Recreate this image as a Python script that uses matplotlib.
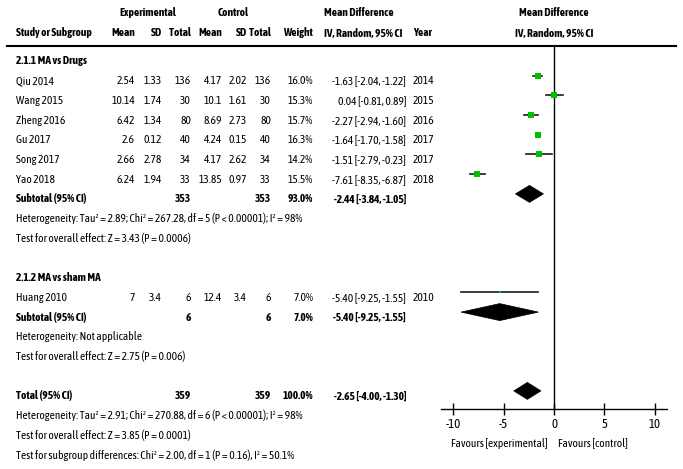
import matplotlib
matplotlib.use('Agg')
import matplotlib.pyplot as plt
from matplotlib import font_manager as fm
from matplotlib.font_manager import FontProperties
from matplotlib.textpath import TextPath
from matplotlib.patches import Polygon

### DATA
# subgroup 2.1.1 MA vs Drugs
g1_names    = ['Qiu 2014', 'Wang 2015', 'Zheng 2016', 'Gu 2017', 'Song 2017', 'Yao 2018']
g1_exp_mean = [2.54, 10.14, 6.42, 2.6, 2.66, 6.24]
g1_exp_sd   = [1.33, 1.74, 1.34, 0.12, 2.78, 1.94]
g1_exp_n    = [136, 30, 80, 40, 34, 33]
g1_ctl_mean = [4.17, 10.1, 8.69, 4.24, 4.17, 13.85]
g1_ctl_sd   = [2.02, 1.61, 2.73, 0.15, 2.62, 0.97]
g1_ctl_n    = [136, 30, 80, 40, 34, 33]
g1_weight   = [16.0, 15.3, 15.7, 16.3, 14.2, 15.5]
g1_md       = [-1.63, 0.04, -2.27, -1.64, -1.51, -7.61]
g1_lo       = [-2.04, -0.81, -2.94, -1.70, -2.79, -8.35]
g1_hi       = [-1.22, 0.89, -1.60, -1.58, -0.23, -6.87]
g1_year     = [2014, 2015, 2016, 2017, 2017, 2018]
g1_sub      = {'n_exp': 353, 'n_ctl': 353, 'w': 93.0, 'md': -2.44, 'lo': -3.84, 'hi': -1.05}
g1_het      = 'Heterogeneity: Tau² = 2.89; Chi² = 267.28, df = 5 (P < 0.00001); I² = 98%'
g1_test     = 'Test for overall effect: Z = 3.43 (P = 0.0006)'

# subgroup 2.1.2 MA vs sham MA
g2_names    = ['Huang 2010']
g2_exp_mean = [7]
g2_exp_sd   = [3.4]
g2_exp_n    = [6]
g2_ctl_mean = [12.4]
g2_ctl_sd   = [3.4]
g2_ctl_n    = [6]
g2_weight   = [7.0]
g2_md       = [-5.40]
g2_lo       = [-9.25]
g2_hi       = [-1.55]
g2_year     = [2010]
g2_sub      = {'n_exp': 6, 'n_ctl': 6, 'w': 7.0, 'md': -5.40, 'lo': -9.25, 'hi': -1.55}
g2_het      = 'Heterogeneity: Not applicable'
g2_test     = 'Test for overall effect: Z = 2.75 (P = 0.006)'

total       = {'n_exp': 359, 'n_ctl': 359, 'w': 100.0, 'md': -2.65, 'lo': -4.00, 'hi': -1.30}
total_het   = 'Heterogeneity: Tau² = 2.91; Chi² = 270.88, df = 6 (P < 0.00001); I² = 98%'
total_test  = 'Test for overall effect: Z = 3.85 (P = 0.0001)'
subgrp_test = 'Test for subgroup differences: Chi² = 2.00, df = 1 (P = 0.16), I² = 50.1%'

x_ticks       = [-10, -5, 0, 5, 10]
x_ticklabels  = ['-10', '-5', '0', '5', '10']

### FONT
# the original uses Arial Narrow; take a metric clone if present, otherwise the
# narrow sans whose width/cap-height ratio is closest to it
installed = {f.name for f in fm.fontManager.ttflist}
target_w, target_cap = 284.0, 7.8

def shape(fam):
    p = FontProperties(family=fam)
    w = TextPath((0, 0), g1_het, size=10, prop=p).get_extents().width
    c = TextPath((0, 0), 'H', size=10, prop=p).get_extents().height
    return w, c

fam = None
for f in ['Liberation Sans Narrow', 'Arial Narrow']:
    if f in installed:
        fam = f
        break
if fam is None:
    cands = ['Roboto Condensed', 'PT Sans Narrow', 'Archivo Narrow', 'Fira Sans Condensed',
             'IBM Plex Sans Condensed', 'Open Sans Condensed', 'Encode Sans Semi Condensed',
             'Barlow Semi Condensed', 'Asap Condensed', 'Pragati Narrow', 'Liberation Sans']
    best = None
    for f in cands:
        if f not in installed:
            continue
        w, c = shape(f)
        score = abs(w / c - target_w / target_cap)
        if best is None or score < best[0]:
            best = (score, f)
    fam = best[1]
plt.rcParams['font.family'] = [fam, 'DejaVu Sans']
plt.rcParams['axes.unicode_minus'] = False

### LAYOUT
W, H = 683, 469
green = '#00c000'

fig = plt.figure(figsize=(W / 100, H / 100), dpi=100)
ax = fig.add_axes([0, 0, 1, 1])
ax.set_xlim(0, W)
ax.set_ylim(H, 0)
ax.axis('off')

# size the font so the long heterogeneity line is as wide as in the reference
probe = ax.text(0, 0, g1_het, fontsize=10)
r = fig.canvas.get_renderer()
fs = 10 * target_w / probe.get_window_extent(r).width
probe.remove()

# forest panel, y in pixel units so it lines up with the table
fx0, fx1, fy0, fy1 = 441, 667, 46, 409
fa = fig.add_axes([fx0 / W, 1 - fy1 / H, (fx1 - fx0) / W, (fy1 - fy0) / H])
fa.set_xlim(-11.24, 11.24)
fa.set_ylim(fy1, fy0)
fa.patch.set_alpha(0)
for s in ['top', 'left', 'right']:
    fa.spines[s].set_visible(False)
fa.spines['bottom'].set_linewidth(1.0)
fa.set_yticks([])
fa.set_xticks(x_ticks)
fa.set_xticklabels(x_ticklabels, fontsize=fs + 1)
fa.tick_params(axis='x', direction='inout', length=9, width=1, pad=2)
fa.axvline(0, color='black', lw=1.0)
fa.text(-0.6, fy1 + 34, 'Favours [experimental]', ha='right', va='center', fontsize=fs, clip_on=False)
fa.text(0.4, fy1 + 34, 'Favours [control]', ha='left', va='center', fontsize=fs, clip_on=False)

def row(i):
    return 61 + 19.7 * i

shift = 5  # plot marks sit a little above the text rows

# columns (right edges)
c_name = 16
c_em, c_es, c_en = 135, 162, 191
c_cm, c_cs, c_cn = 222, 247, 271
c_w = 313
c_ci = 406
c_md_hdr = 324
c_year = 413

# header
ax.text(148, 13, 'Experimental', ha='center', va='center', fontsize=fs, weight='bold')
ax.text(233, 13, 'Control', ha='center', va='center', fontsize=fs, weight='bold')
ax.text(c_md_hdr, 13, 'Mean Difference', ha='left', va='center', fontsize=fs, weight='bold')
ax.text(554, 13, 'Mean Difference', ha='center', va='center', fontsize=fs, weight='bold')
ax.text(c_name, 33, 'Study or Subgroup', ha='left', va='center', fontsize=fs, weight='bold')
for x, t in [(c_em, 'Mean'), (c_es, 'SD'), (c_en, 'Total'), (c_cm, 'Mean'),
             (c_cs, 'SD'), (c_cn, 'Total'), (c_w, 'Weight')]:
    ax.text(x, 33, t, ha='right', va='center', fontsize=fs, weight='bold')
ax.text(c_md_hdr, 33, 'IV, Random, 95% CI', ha='left', va='center', fontsize=fs, weight='bold')
ax.text(c_year, 33, 'Year', ha='left', va='center', fontsize=fs, weight='bold')
ax.text(554, 33, 'IV, Random, 95% CI', ha='center', va='center', fontsize=fs, weight='bold')
ax.plot([7, 676], [46, 46], color='black', lw=1.5)

def ci_text(md, lo, hi):
    return f'{md:.2f} [{lo:.2f}, {hi:.2f}]'

def summary(y, label, d):
    ax.text(c_name, y, label, ha='left', va='center', fontsize=fs, weight='bold')
    ax.text(c_en, y, str(d['n_exp']), ha='right', va='center', fontsize=fs, weight='bold')
    ax.text(c_cn, y, str(d['n_ctl']), ha='right', va='center', fontsize=fs, weight='bold')
    ax.text(c_w, y, f"{d['w']:.1f}%", ha='right', va='center', fontsize=fs, weight='bold')
    ax.text(c_ci, y, ci_text(d['md'], d['lo'], d['hi']), ha='right', va='center', fontsize=fs, weight='bold')
    yd = y - shift
    dia = Polygon([(d['lo'], yd), (d['md'], yd - 8.5), (d['hi'], yd), (d['md'], yd + 8.5)],
                  closed=True, facecolor='black', edgecolor='black', lw=0.5)
    fa.add_patch(dia)

def group(start, title, names, em, es, en, cm, cs, cn, w, md, lo, hi, yr, sub, het, test):
    ax.text(c_name, row(start), title, ha='left', va='center', fontsize=fs, weight='bold')
    for k in range(len(names)):
        y = row(start + 1 + k)
        ax.text(c_name, y, names[k], ha='left', va='center', fontsize=fs)
        for x, v in [(c_em, em[k]), (c_es, es[k]), (c_en, en[k]),
                     (c_cm, cm[k]), (c_cs, cs[k]), (c_cn, cn[k])]:
            ax.text(x, y, f'{v:g}', ha='right', va='center', fontsize=fs)
        ax.text(c_w, y, f'{w[k]:.1f}%', ha='right', va='center', fontsize=fs)
        ax.text(c_ci, y, ci_text(md[k], lo[k], hi[k]), ha='right', va='center', fontsize=fs)
        ax.text(c_year, y, str(yr[k]), ha='left', va='center', fontsize=fs)
        fa.plot([lo[k], hi[k]], [y - shift, y - shift], color='#1a1a1a', lw=1.2)
        fa.plot(md[k], y - shift, marker='s', color=green, markersize=w[k] * 0.26,
                markeredgewidth=0, zorder=4)
    i = start + 1 + len(names)
    summary(row(i), 'Subtotal (95% CI)', sub)
    ax.text(c_name, row(i + 1), het, ha='left', va='center', fontsize=fs)
    ax.text(c_name, row(i + 2), test, ha='left', va='center', fontsize=fs)

group(0, '2.1.1 MA vs Drugs', g1_names, g1_exp_mean, g1_exp_sd, g1_exp_n, g1_ctl_mean,
      g1_ctl_sd, g1_ctl_n, g1_weight, g1_md, g1_lo, g1_hi, g1_year, g1_sub, g1_het, g1_test)
group(11, '2.1.2 MA vs sham MA', g2_names, g2_exp_mean, g2_exp_sd, g2_exp_n, g2_ctl_mean,
      g2_ctl_sd, g2_ctl_n, g2_weight, g2_md, g2_lo, g2_hi, g2_year, g2_sub, g2_het, g2_test)

summary(row(17), 'Total (95% CI)', total)
ax.text(c_name, row(18), total_het, ha='left', va='center', fontsize=fs)
ax.text(c_name, row(19), total_test, ha='left', va='center', fontsize=fs)
ax.text(c_name, row(20), subgrp_test, ha='left', va='center', fontsize=fs)

fig.savefig('out.png', dpi=100)
